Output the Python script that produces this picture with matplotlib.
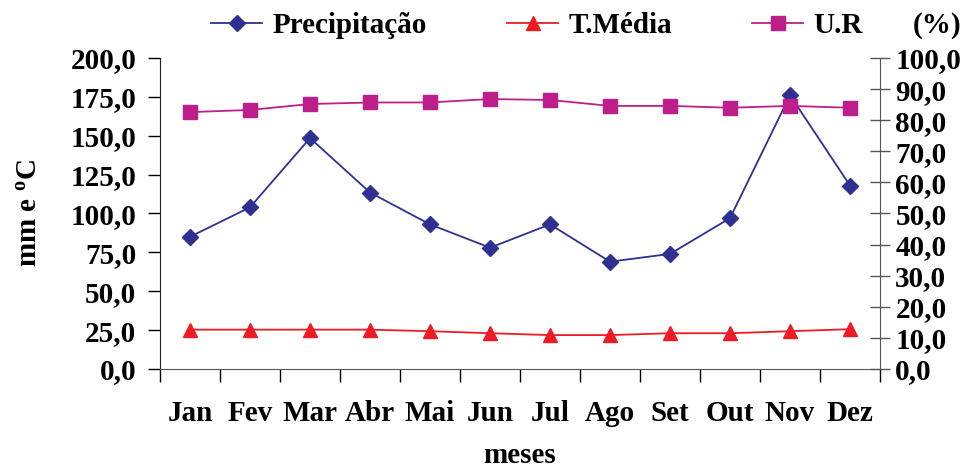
import matplotlib
matplotlib.use("Agg")
import matplotlib.pyplot as plt
import numpy as np

# dados mensais
meses = ["Jan", "Fev", "Mar", "Abr", "Mai", "Jun", "Jul", "Ago", "Set", "Out", "Nov", "Dez"]
precipitacao = [85.0, 104.0, 148.5, 113.5, 93.0, 78.0, 93.0, 69.0, 74.0, 97.0, 176.0, 118.0]
t_media = [25.3, 25.3, 25.3, 25.3, 24.3, 23.0, 21.8, 21.8, 23.0, 23.0, 24.3, 25.6]
umidade = [82.6, 83.3, 85.2, 85.7, 85.7, 86.8, 86.5, 84.6, 84.6, 84.0, 84.6, 84.0]

COLORS = ["#2e3192", "#ed1c24", "#be1e8c"]

plt.rcParams["font.family"] = ["Liberation Serif", "DejaVu Serif"]
plt.rcParams["font.weight"] = "bold"
FS = 21

fig = plt.figure(figsize=(9.71, 4.70), dpi=100)
ax = fig.add_axes([0.1648, 0.2149, 0.9063 - 0.1648, 0.8766 - 0.2149])
ax2 = ax.twinx()

x = np.arange(len(meses))
l1, = ax.plot(x, precipitacao, color=COLORS[0], marker="D", markersize=8,
              linewidth=1.3, label="Precipitação")
l2, = ax.plot(x, t_media, color=COLORS[1], marker="^", markersize=10,
              linewidth=1.3, label="T.Média")
l3, = ax2.plot(x, umidade, color=COLORS[2], marker="s", markersize=9.5,
               linewidth=1.3, label="U.R")

ax.set_xlim(-0.5, 11.5)
ax.set_ylim(0, 200)
ax2.set_ylim(0, 100)

fmt = matplotlib.ticker.FuncFormatter(lambda v, p: ("%.1f" % v).replace(".", ","))
ax.set_yticks(np.arange(0, 201, 25))
ax2.set_yticks(np.arange(0, 101, 10))
for a in (ax, ax2):
    a.yaxis.set_major_formatter(fmt)
    for t in a.get_yticklabels():
        t.set_fontsize(FS)
        t.set_fontweight("bold")

ax.set_xticks(x)
ax.set_xticklabels(meses, fontsize=FS, fontweight="bold")
ax.set_xticks(np.arange(-0.5, 12, 1), minor=True)
ax.tick_params(axis="x", which="major", length=0, pad=22)
ax.tick_params(axis="x", which="minor", length=9, width=1, direction="out")
ax.tick_params(axis="y", length=9, width=1, direction="out", pad=8)
ax2.tick_params(axis="y", length=14, width=1, direction="inout", pad=4, color="#555555")

for a in (ax, ax2):
    a.spines["top"].set_visible(False)
ax.spines["right"].set_visible(False)
ax2.spines["left"].set_visible(False)
ax2.spines["bottom"].set_visible(False)
ax2.spines["right"].set_color("#555555")
ax.spines["left"].set_color("#222222")
ax.spines["bottom"].set_color("#555555")

ax.set_xlabel("meses", fontsize=FS, fontweight="bold", labelpad=11)
ax.set_ylabel("mm e $\\mathregular{^o}$C", fontsize=FS, fontweight="bold", labelpad=20)
fig.text(0.99, 0.945, "(%)", fontsize=FS, fontweight="bold", ha="right", va="center")

fig.legend(handles=[l1, l2, l3], loc="center", bbox_to_anchor=(0.553, 0.945), ncol=3,
           frameon=False, prop={"weight": "bold", "size": FS},
           handlelength=1.75, columnspacing=2.75, handletextpad=0.35)

fig.savefig("out.png", dpi=100)
